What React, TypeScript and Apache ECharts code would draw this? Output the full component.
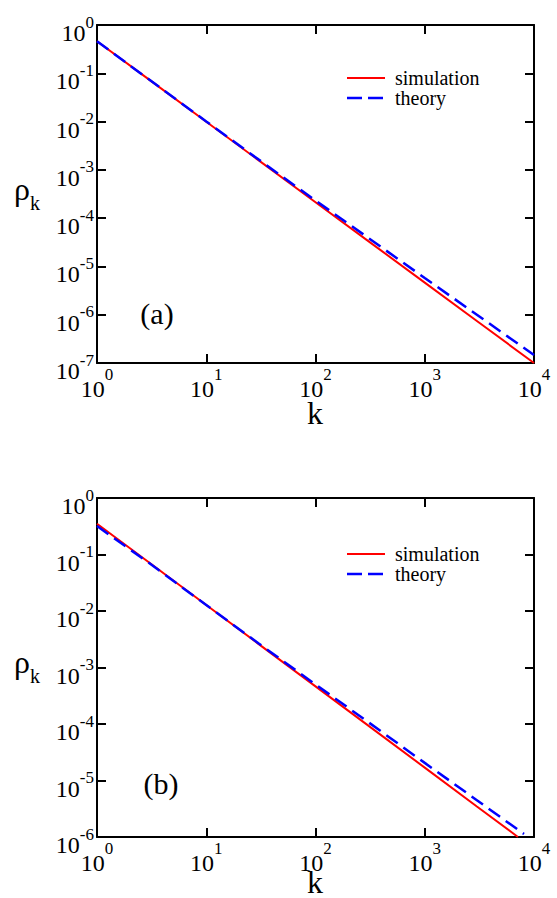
import React, { useEffect, useRef } from "react";
import * as echarts from "echarts";

// ---- Data ----
const kA = [1, 3, 10, 30, 100, 300, 1000, 3000, 10000];
const simA = [0.46, 0.0738, 0.00993, 1.59e-3, 2.14e-4, 3.43e-5, 4.62e-6, 7.41e-7, 1.0e-7];
const theoryA = [0.46, 0.0741, 0.01005, 1.65e-3, 2.32e-4, 3.99e-5, 5.75e-6, 1.0e-6, 1.46e-7];

const kBSim = [1, 3, 10, 30, 100, 300, 1000, 3000, 7130];
const simB = [0.35, 0.0721, 0.01274, 2.62e-3, 4.63e-4, 9.55e-5, 1.69e-5, 3.47e-6, 1.0e-6];
const kBTheory = [1, 3, 10, 30, 100, 300, 1000, 3000, 8100];
const theoryB = [0.319, 0.0705, 0.01274, 2.69e-3, 5.02e-4, 1.1e-4, 2.05e-5, 4.48e-6, 1.13e-6];

const xRange = [1, 10000];
const yRangeA = [1e-7, 1];
const yRangeB = [1e-6, 1];

const seriesNames = ["simulation", "theory"];
const panelLabels = ["(a)", "(b)"];

const FONT = "Times New Roman";
const RED = "#ff0000";
const BLUE = "#0000ff";

const zip = (xs: number[], ys: number[]) => xs.map((x, i) => [x, ys[i]]);
const expLabel = (v: number) => `{b|10}{s|${Math.round(Math.log10(v))}}`;

const yRich = {
  b: { fontSize: 24, fontFamily: FONT, color: "#000", padding: [16, 0, 0, 0] },
  s: { fontSize: 17, fontFamily: FONT, color: "#000", padding: [8.5, 0, 14.5, 0] },
};
const xRich = {
  b: { fontSize: 24, fontFamily: FONT, color: "#000", padding: [13.5, 0, 0, 0] },
  s: { fontSize: 17, fontFamily: FONT, color: "#000", padding: [2.5, 0, 18, 0] },
};

function axisLine() {
  return { show: true, onZero: false, lineStyle: { color: "#000", width: 2 } };
}
function axisTick() {
  return { show: true, inside: true, length: 9, lineStyle: { color: "#000", width: 2 } };
}

function xAxes(grid: number) {
  const base = () => ({
    type: "log" as const,
    logBase: 10,
    gridIndex: grid,
    min: xRange[0],
    max: xRange[1],
    interval: 1,
    splitNumber: 4,
    splitLine: { show: false },
    minorTick: { show: false },
    axisLine: axisLine(),
    axisTick: axisTick(),
  });
  return [
    {
      ...base(),
      position: "bottom",
      axisLabel: { show: true, margin: 0, fontFamily: FONT, fontSize: 24, color: "#000", formatter: expLabel, rich: xRich },
    },
    { ...base(), position: "top", axisLabel: { show: false } },
  ];
}

function yAxes(grid: number, range: number[]) {
  const n = Math.round(Math.log10(range[1]) - Math.log10(range[0]));
  const base = () => ({
    type: "log" as const,
    logBase: 10,
    gridIndex: grid,
    min: range[0],
    max: range[1],
    interval: 1,
    splitNumber: n,
    splitLine: { show: false },
    minorTick: { show: false },
    axisLine: axisLine(),
    axisTick: axisTick(),
  });
  return [
    {
      ...base(),
      position: "left",
      axisLabel: { show: true, margin: 3, fontFamily: FONT, fontSize: 24, color: "#000", formatter: expLabel, rich: yRich },
    },
    { ...base(), position: "right", axisLabel: { show: false } },
  ];
}

function txt(x: number, y: number, text: string, size: number, align: string) {
  return {
    type: "text",
    x,
    y,
    style: { text, fill: "#000", fontSize: size, fontFamily: FONT, align, verticalAlign: "middle" },
  };
}

function legend(yTop: number) {
  return [
    { type: "line", shape: { x1: 347, y1: yTop, x2: 385, y2: yTop }, style: { stroke: RED, lineWidth: 2 } },
    {
      type: "line",
      shape: { x1: 347, y1: yTop + 20, x2: 385, y2: yTop + 20 },
      style: { stroke: BLUE, lineWidth: 2.5, lineDash: [15, 6] },
    },
    txt(395, yTop, seriesNames[0], 20, "left"),
    txt(395, yTop + 20, seriesNames[1], 20, "left"),
  ];
}

function rhoLabel(y: number) {
  return {
    type: "text",
    x: 14,
    y,
    style: {
      text: "{r|ρ}{k|k}",
      fill: "#000",
      fontSize: 32,
      fontFamily: FONT,
      align: "left",
      verticalAlign: "middle",
      rich: {
        r: { fontSize: 32, fontFamily: FONT, color: "#000", padding: [0, 0, 8, 0] },
        k: { fontSize: 20, fontFamily: FONT, color: "#000", padding: [20, 0, 0, 0] },
      },
    },
  };
}

export default function App() {
  const ref = useRef<HTMLDivElement>(null);
  useEffect(() => {
    if (!ref.current) return;
    const chart = echarts.init(ref.current, undefined, { renderer: "svg" });
    const lineSim = { type: "solid", color: RED, width: 2 };
    const lineTh = { type: [14, 7], color: BLUE, width: 2.5 };
    chart.setOption({
      animation: false,
      backgroundColor: "#fff",
      grid: [
        { left: 97, top: 25, width: 437, height: 338, containLabel: false },
        { left: 97, top: 498, width: 437, height: 339, containLabel: false },
      ],
      xAxis: [...xAxes(0), ...xAxes(1)],
      yAxis: [...yAxes(0, yRangeA), ...yAxes(1, yRangeB)],
      series: [
        { name: seriesNames[0], type: "line", xAxisIndex: 0, yAxisIndex: 0, data: zip(kA, simA), showSymbol: false, lineStyle: lineSim, z: 2 },
        { name: seriesNames[1], type: "line", xAxisIndex: 0, yAxisIndex: 0, data: zip(kA, theoryA), showSymbol: false, lineStyle: lineTh, z: 3 },
        { name: seriesNames[0], type: "line", xAxisIndex: 2, yAxisIndex: 2, data: zip(kBSim, simB), showSymbol: false, lineStyle: lineSim, z: 2 },
        { name: seriesNames[1], type: "line", xAxisIndex: 2, yAxisIndex: 2, data: zip(kBTheory, theoryB), showSymbol: false, lineStyle: lineTh, z: 3 },
      ],
      graphic: [
        ...legend(78),
        ...legend(554),
        txt(157, 313, panelLabels[0], 30, "center"),
        txt(161, 783, panelLabels[1], 30, "center"),
        txt(315, 413, "k", 32, "center"),
        txt(315, 882, "k", 32, "center"),
        rhoLabel(193),
        rhoLabel(666),
      ],
    });
    return () => chart.dispose();
  }, []);
  return <div ref={ref} style={{ position: "fixed", left: 0, top: 0, width: 557, height: 898 }} />;
}
